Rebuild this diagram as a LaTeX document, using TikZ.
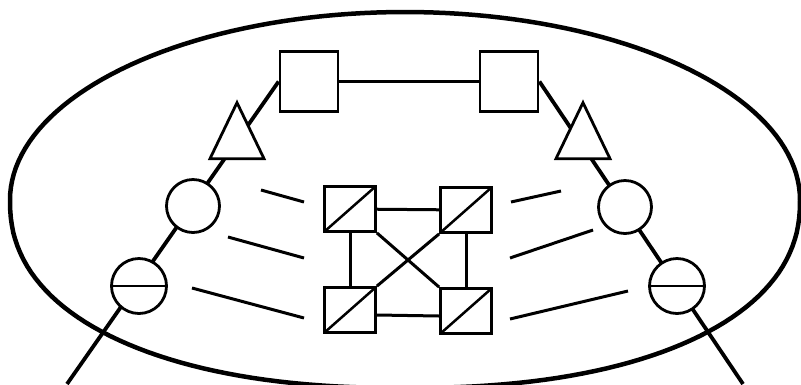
\documentclass[tikz,border=0pt]{standalone}
\usetikzlibrary{shapes.geometric,backgrounds}
\begin{document}
\begin{tikzpicture}[x=1pt,y=-1pt,
  bigbox/.style={
    draw,
    fill=white,
    line width=2.8pt,
    inner sep=0pt,
    minimum width=58pt,
    minimum height=60pt
  },
  tri/.style={
    isosceles triangle,
    isosceles triangle stretches,
    shape border rotate=90,
    draw,
    fill=white,
    line width=2.8pt,
    inner sep=0pt,
    minimum width=54pt,
    minimum height=56pt,
    anchor=apex
  },
  ring/.style={
    circle,
    draw,
    fill=white,
    line width=2.8pt,
    inner sep=0pt,
    minimum size=53pt
  },
  barring/.style={
    ring,
    minimum size=55pt,
    path picture={\draw[line width=2.8pt] (path picture bounding box.west) -- (path picture bounding box.east);}
  },
  slashbox/.style={
    draw,
    fill=white,
    line width=2.8pt,
    inner sep=0pt,
    minimum width=51pt,
    minimum height=45pt,
    path picture={\draw[line width=2.5pt] (path picture bounding box.south west) -- (path picture bounding box.north east);}
  }
]
 \useasboundingbox (0,0) rectangle (801,384);
 % outer loop, a bit fuller at the bottom
 \draw[line width=4.5pt]
   plot[domain=0:180,samples=91,variable=\t]
     ({405+395*sign(cos(\t))*pow(abs(cos(\t))+0.00001,0.889)},{200+188*pow(abs(sin(\t))+0.00001,0.889)})
   -- plot[domain=180:360,samples=91,variable=\t] ({405+395*cos(\t)},{200+188*sin(\t)}) -- cycle;
 \node[bigbox] (topL) at (309,81.5) {};
 \node[bigbox] (topR) at (509,81.5) {};
 \node[tri] (triL) at (237,99) {};
 \node[tri] (triR) at (583,99) {};
 \node[ring] (ringL) at (193,206) {};
 \node[ring] (ringR) at (625,207) {};
 \node[barring] (barL) at (139,286) {};
 \node[barring] (barR) at (677,286) {};
 \coordinate (endL) at (67,384);
 \coordinate (endR) at (743,384);
 \node[slashbox] (sa) at (350,209) {};
 \node[slashbox] (sb) at (466,210) {};
 \node[slashbox] (sc) at (350,310) {};
 \node[slashbox] (sd) at (466,311) {};
 \begin{scope}[on background layer]
  \draw[line width=3.8pt] (topL.west) -- (endL);
  \draw[line width=3.8pt] (topR.east) -- (endR);
 \end{scope}
 \draw[line width=3pt] (topL) -- (topR);
 \draw[line width=3pt] (sa) -- (sb);
 \draw[line width=3pt] ([yshift=-5pt]sc.east) -- ([yshift=-5pt]sd.west);
 \draw[line width=3pt] (sa) -- (sc);
 \draw[line width=3pt] (sb) -- (sd);
 \draw[line width=3pt] (sa.south east) -- (sd.north west);
 \draw[line width=3pt] (sb.south west) -- (sc.north east);
 % short strokes either side
 \foreach \a/\b/\c/\d in {261/190/304/202, 228/237/304/258, 192/288/304/318,
                          511/202/561/191, 510/258/593/230, 510/319/628/291}
   \draw[line width=3pt] (\a,\b) -- (\c,\d);
\end{tikzpicture}
\end{document}
